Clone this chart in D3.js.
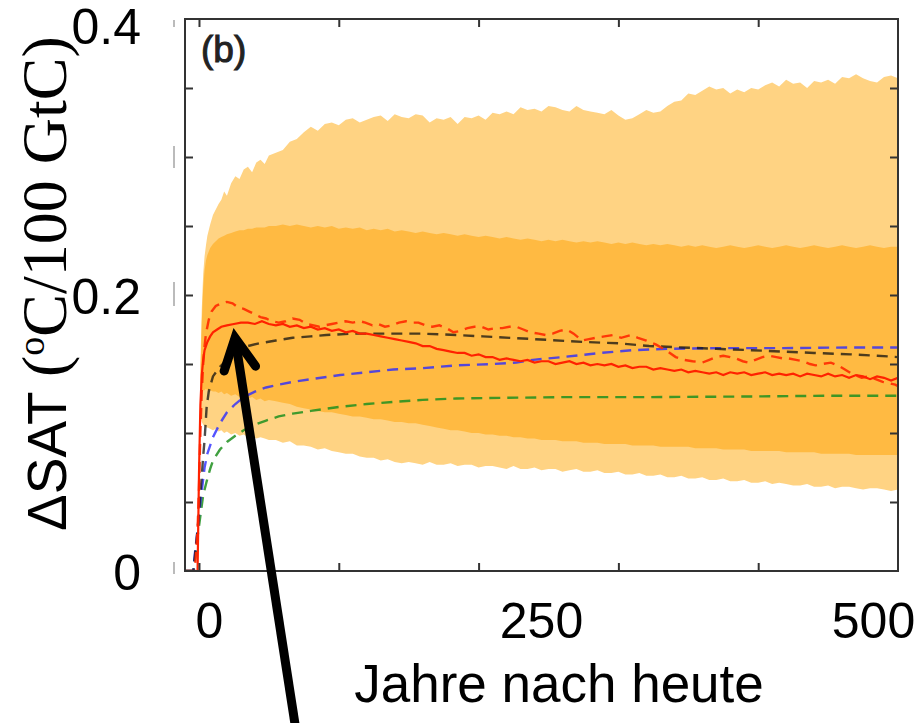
<!DOCTYPE html>
<html>
<head>
<meta charset="utf-8">
<script src="https://cdn.jsdelivr.net/npm/d3@7/dist/d3.min.js"></script>
<style>
  html, body { margin: 0; padding: 0; background: #fff; }
  svg { display: block; }
</style>
</head>
<body>
<svg id="chart" width="920" height="723"></svg>
<script>
// ---------------- DATA ----------------
const xTickLabels = [0, 250, 500];
const yTickLabels = [0, 0.2, 0.4];
const xMinorTicks = [0, 100, 200, 300, 400];
const yMinorTicks = [0.05, 0.1, 0.15, 0.2, 0.25, 0.3, 0.35];

// uncertainty bands (years after present)
const bandYears = [1,2,3,4,5,6,8,10,12,14,16,18,20,23,26,29,32,35,38,41,44,47,50,
  55,60,65,70,75,80,85,90,95,100,105,110,115,120,125,130,135,140,145,150,155,160,165,170,175,180,185,190,195,200,
  205,210,215,220,225,230,235,240,245,250,255,260,265,270,275,280,285,290,295,300,305,310,315,320,325,330,335,340,345,350,
  355,360,365,370,375,380,385,390,395,400,405,410,415,420,425,430,435,440,445,450,455,460,465,470,475,480,485,490,495,500];

const outerUpper = [0.15,0.19,0.215,0.228,0.236,0.243,0.251,0.258,0.262,0.266,0.269,0.275,0.272,0.281,0.286,0.284,0.291,0.293,0.289,0.296,0.298,0.295,0.301,
  0.303,0.305,0.311,0.313,0.318,0.322,0.319,0.324,0.325,0.323,0.327,0.328,0.325,0.327,0.329,0.330,0.326,0.331,0.329,0.328,0.331,0.330,0.325,0.328,0.327,0.329,0.324,0.329,0.328,0.330,
  0.327,0.332,0.331,0.333,0.331,0.336,0.334,0.335,0.333,0.337,0.336,0.334,0.333,0.337,0.334,0.333,0.332,0.331,0.334,0.330,0.327,0.328,0.331,0.334,0.332,0.333,0.337,0.340,0.341,0.346,
  0.345,0.348,0.351,0.349,0.350,0.346,0.349,0.347,0.350,0.349,0.352,0.354,0.351,0.356,0.353,0.354,0.350,0.355,0.354,0.356,0.353,0.358,0.357,0.360,0.357,0.355,0.354,0.358,0.359,0.357];

const innerUpper = [0.14,0.18,0.205,0.218,0.225,0.229,0.234,0.237,0.239,0.241,0.242,0.243,0.244,0.245,0.246,0.247,0.247,0.248,0.248,0.249,0.249,0.249,0.250,
  0.250,0.251,0.250,0.251,0.250,0.249,0.250,0.249,0.250,0.248,0.249,0.248,0.249,0.247,0.248,0.247,0.248,0.246,0.247,0.246,0.245,0.246,0.245,0.244,0.245,0.244,0.243,0.244,0.243,0.242,
  0.243,0.242,0.241,0.242,0.241,0.240,0.241,0.240,0.239,0.240,0.239,0.240,0.239,0.238,0.239,0.238,0.239,0.238,0.237,0.238,0.237,0.238,0.237,0.236,0.237,0.236,0.237,0.236,0.235,0.236,
  0.235,0.236,0.235,0.234,0.235,0.236,0.235,0.234,0.235,0.236,0.235,0.234,0.235,0.236,0.235,0.234,0.235,0.236,0.235,0.234,0.235,0.236,0.235,0.234,0.235,0.236,0.235,0.234,0.235,0.235];

const innerLower = [0.128,0.130,0.131,0.131,0.132,0.131,0.131,0.130,0.130,0.129,0.130,0.128,0.129,0.127,0.128,0.126,0.127,0.125,0.126,0.124,0.125,0.123,0.124,
  0.123,0.122,0.121,0.119,0.118,0.117,0.116,0.115,0.115,0.114,0.113,0.112,0.112,0.111,0.110,0.110,0.109,0.108,0.108,0.107,0.107,0.106,0.105,0.104,0.103,0.102,0.102,0.101,0.100,0.100,
  0.099,0.099,0.098,0.098,0.097,0.097,0.096,0.096,0.095,0.095,0.095,0.094,0.094,0.094,0.093,0.093,0.093,0.092,0.092,0.092,0.092,0.091,0.091,0.091,0.091,0.090,0.090,0.090,0.090,0.090,
  0.089,0.089,0.089,0.089,0.088,0.088,0.088,0.088,0.087,0.087,0.087,0.087,0.087,0.086,0.086,0.086,0.086,0.086,0.085,0.085,0.085,0.085,0.085,0.084,0.084,0.084,0.084,0.084,0.084,0.084];

const outerLower = [0.112,0.108,0.106,0.105,0.104,0.104,0.103,0.102,0.103,0.101,0.102,0.100,0.101,0.099,0.100,0.098,0.099,0.097,0.098,0.096,0.097,0.096,0.095,
  0.095,0.093,0.094,0.091,0.091,0.090,0.088,0.089,0.087,0.086,0.085,0.085,0.083,0.082,0.082,0.080,0.081,0.079,0.078,0.079,0.078,0.077,0.079,0.077,0.077,0.078,0.076,0.077,0.077,0.075,
  0.076,0.076,0.075,0.074,0.076,0.074,0.074,0.075,0.073,0.074,0.074,0.072,0.073,0.074,0.072,0.072,0.073,0.071,0.071,0.072,0.070,0.070,0.071,0.069,0.069,0.070,0.068,0.068,0.069,0.067,
  0.067,0.068,0.066,0.066,0.067,0.065,0.065,0.066,0.064,0.064,0.065,0.063,0.064,0.063,0.062,0.062,0.063,0.061,0.061,0.062,0.060,0.061,0.061,0.060,0.059,0.060,0.060,0.059,0.058,0.059];

// multi-model mean (red solid)
const meanYears = [-10,-1,0,1,2,3,4,6,8,10,13,16,20,25,30,35,40,45,50,55,60,65,70,75,80,85,90,95,100,105,110,115,120,125,130,135,140,145,150,155,160,165,170,175,180,185,190,195,200,
  205,210,215,220,225,230,235,240,245,250,255,260,265,270,275,280,285,290,295,300,305,310,315,320,325,330,335,340,345,350,355,360,365,370,375,380,385,390,395,400,
  405,410,415,420,425,430,435,440,445,450,455,460,465,470,475,480,485,490,495,500];
const meanValues = [0,0,0.07,0.12,0.142,0.153,0.16,0.166,0.17,0.173,0.175,0.177,0.178,0.179,0.180,0.180,0.179,0.181,0.179,0.178,0.179,0.177,0.178,0.176,0.177,0.175,0.176,0.174,0.175,0.173,0.174,0.172,0.172,0.171,0.170,0.169,0.168,0.167,0.166,0.165,0.163,0.163,0.161,0.160,0.159,0.158,0.158,0.156,0.157,
  0.155,0.155,0.153,0.154,0.153,0.152,0.153,0.151,0.152,0.152,0.150,0.151,0.152,0.150,0.151,0.149,0.150,0.149,0.150,0.148,0.149,0.147,0.148,0.148,0.146,0.147,0.146,0.145,0.146,0.144,0.145,0.144,0.143,0.144,0.142,0.144,0.143,0.144,0.142,0.143,
  0.144,0.142,0.143,0.142,0.143,0.141,0.143,0.142,0.141,0.143,0.141,0.142,0.140,0.142,0.141,0.139,0.141,0.140,0.138,0.140];

// red dashed
const redDashYears = [-10,-3,-1,0,1,2,3,4,5,7,9,12,16,20,24,28,32,36,40,44,48,52,57,62,67,72,77,82,86,90,95,100,105,110,115,119,124,128,133,138,143,148,153,157,162,167,172,177,182,187,192,197,202,207,212,217,222,227,232,237,243,248,253,258,263,268,274,279,284,290,296,302,309,314,320,327,334,341,347,353,360,365,370,375,380,384,389,393,398,403,408,413,418,422,427,432,437,441,446,452,457,462,467,474,479,484,489,494,498,500];
const redDashValues = [0,0,0.03,0.06,0.10,0.13,0.15,0.163,0.172,0.182,0.188,0.192,0.194,0.195,0.194,0.191,0.190,0.188,0.186,0.184,0.183,0.181,0.180,0.181,0.183,0.182,0.179,0.178,0.177,0.178,0.179,0.180,0.181,0.180,0.181,0.180,0.178,0.179,0.177,0.178,0.180,0.181,0.180,0.180,0.178,0.177,0.178,0.176,0.173,0.174,0.176,0.177,0.177,0.175,0.176,0.176,0.177,0.177,0.175,0.173,0.172,0.171,0.172,0.174,0.175,0.172,0.167,0.168,0.169,0.170,0.171,0.169,0.171,0.169,0.167,0.164,0.160,0.155,0.153,0.152,0.151,0.153,0.155,0.156,0.155,0.154,0.152,0.151,0.153,0.155,0.156,0.155,0.154,0.154,0.153,0.152,0.150,0.149,0.150,0.151,0.149,0.146,0.143,0.140,0.141,0.139,0.137,0.136,0.135,0.134];

// black dashed
const blackYears = [-10,-4,-3,-1,1,3,4,5.5,7,10,15,20,27,35,43,55,67,80,91,110,139,160,184,203,240,275,300,322,345,370,395,418,440,466,485,500];
const blackValues = [0,0,0.01,0.03,0.055,0.083,0.095,0.119,0.13,0.141,0.148,0.153,0.16,0.163,0.165,0.167,0.169,0.170,0.171,0.172,0.172,0.172,0.171,0.170,0.168,0.166,0.165,0.163,0.162,0.161,0.160,0.159,0.158,0.157,0.156,0.155];

// blue dashed
const blueYears = [-10,-4,-3,-1,1,2,4,6,10,15,20,26,32,40,48,57,67,80,101,120,139,160,184,210,227,239,260,287,310,335,370,418,466,500];
const blueValues = [0,0,0.012,0.03,0.05,0.058,0.075,0.085,0.097,0.107,0.115,0.121,0.126,0.130,0.133,0.135,0.137,0.139,0.142,0.144,0.146,0.147,0.149,0.150,0.151,0.153,0.155,0.158,0.160,0.161,0.1615,0.1615,0.162,0.162];

// green dashed
const greenYears = [-10,-4,-3,-1,1,3,5.5,8,10,15,20,26,32,40,48,57,67,80,101,120,139,160,184,220,260,320,400,450,500];
const greenValues = [0,0,0.008,0.025,0.04,0.055,0.065,0.074,0.08,0.088,0.0935,0.098,0.102,0.106,0.109,0.112,0.114,0.116,0.119,0.121,0.1225,0.124,0.125,0.1255,0.126,0.126,0.1265,0.127,0.127];

// annotation arrow (data units: tip and tail)
const arrowTip = [25.8, 0.169];
const arrowTail = [71, -0.126];

// ---------------- CHART ----------------
const svg = d3.select("#chart");
const plot = { left: 185, right: 898, top: 19, bottom: 571 };

const x = d3.scaleLinear().domain([-10, 500]).range([plot.left, plot.right]);
const y = d3.scaleLinear().domain([0, 0.4]).range([plot.bottom, plot.top]);
// overlaid (translated) tick labels sit slightly offset from the data ticks
const xLabelScale = d3.scaleLinear().domain([0, 500]).range([209, 873]);

svg.append("defs").append("clipPath").attr("id", "clip")
  .append("rect").attr("x", plot.left).attr("y", plot.top)
  .attr("width", plot.right - plot.left).attr("height", plot.bottom - plot.top);

const g = svg.append("g").attr("clip-path", "url(#clip)");

const zipBand = (lo, hi) => bandYears.map((yr, i) => ({ x: yr, lo: lo[i], hi: hi[i] }));
const area = d3.area().x(d => x(d.x)).y0(d => y(d.lo)).y1(d => y(d.hi));

g.append("path").datum(zipBand(outerLower, outerUpper))
  .attr("d", area).attr("fill", "#FFD383");
g.append("path").datum(zipBand(innerLower, innerUpper))
  .attr("d", area).attr("fill", "#FFBA42");

const line = d3.line().x(d => x(d[0])).y(d => y(d[1]));
const zip = (xs, ys) => xs.map((v, i) => [v, ys[i]]);

const series = [
  { xs: greenYears, ys: greenValues, color: "#1f8f1f", dash: "11,7", op: 0.85, w: 2.4 },
  { xs: blueYears, ys: blueValues, color: "#2a2aff", dash: "11,7", op: 0.8, w: 2.4 },
  { xs: blackYears, ys: blackValues, color: "#111", dash: "11,7", op: 0.75, w: 2.4 },
  { xs: redDashYears, ys: redDashValues, color: "#ff2a00", dash: "11,7", op: 0.9, w: 2.4 },
  { xs: meanYears, ys: meanValues, color: "#ff2200", dash: null, op: 1, w: 2.2 }
];
series.forEach(s => {
  g.append("path").datum(zip(s.xs, s.ys))
    .attr("d", line).attr("fill", "none")
    .attr("stroke", s.color).attr("stroke-width", s.w)
    .attr("stroke-opacity", s.op)
    .attr("stroke-dasharray", s.dash);
});

// frame ticks (inward)
const tickStyle = sel => {
  sel.select(".domain").remove();
  sel.selectAll("line").attr("stroke", "#333").attr("stroke-width", 2);
  sel.selectAll("text").remove();
};
svg.append("g").attr("transform", `translate(0,${plot.bottom})`)
  .call(d3.axisBottom(x).tickValues(xMinorTicks).tickSize(-8)).call(tickStyle);
svg.append("g").attr("transform", `translate(0,${plot.top})`)
  .call(d3.axisTop(x).tickValues(xMinorTicks).tickSize(-8)).call(tickStyle);
svg.append("g").attr("transform", `translate(${plot.left},0)`)
  .call(d3.axisLeft(y).tickValues(yMinorTicks).tickSize(-8)).call(tickStyle);
svg.append("g").attr("transform", `translate(${plot.right},0)`)
  .call(d3.axisRight(y).tickValues(yMinorTicks).tickSize(-8)).call(tickStyle);

svg.append("rect")
  .attr("x", plot.left).attr("y", plot.top)
  .attr("width", plot.right - plot.left).attr("height", plot.bottom - plot.top)
  .attr("fill", "none").attr("stroke", "#333").attr("stroke-width", 2);

// faint remnants of original labels left of the frame
[[20, 27], [146, 168], [282, 306], [562, 574]].forEach(r => {
  svg.append("line").attr("x1", 174).attr("x2", 174).attr("y1", r[0]).attr("y2", r[1])
    .attr("stroke", "#bbb").attr("stroke-width", 2);
});

// tick labels
const labelFont = "'Liberation Sans', Arial, sans-serif";
const xAx = svg.append("g").attr("transform", "translate(0,638)")
  .call(d3.axisBottom(xLabelScale).tickValues(xTickLabels).tickSize(0).tickPadding(0).tickFormat(d3.format("d")));
xAx.select(".domain").remove();
xAx.selectAll("text").attr("y", 0).attr("dy", 0)
  .attr("font-family", labelFont).attr("font-size", 50).attr("fill", "#000");

const yAx = svg.append("g").attr("transform", "translate(141,0)")
  .call(d3.axisLeft(y).tickValues(yTickLabels).tickSize(0).tickPadding(0)
    .tickFormat(d => d === 0 ? "0" : d3.format(".1f")(d)));
yAx.select(".domain").remove();
yAx.selectAll("text").attr("x", 0)
  .attr("dy", d => d === 0.4 ? 24 : 18)
  .attr("font-family", labelFont).attr("font-size", 50).attr("fill", "#000");

// axis titles
svg.append("text").attr("x", 559).attr("y", 702).attr("text-anchor", "middle")
  .attr("font-family", labelFont).attr("font-size", 53).attr("fill", "#000")
  .text("Jahre nach heute");

const serif = "'Liberation Serif', 'Times New Roman', serif";
const yt = svg.append("text").attr("transform", "translate(66,531) rotate(-90)")
  .attr("fill", "#000");
yt.append("tspan").attr("font-family", labelFont).attr("font-size", 55).text("ΔSAT ");
yt.append("tspan").attr("font-family", serif).attr("font-size", 64).text("(");
yt.append("tspan").attr("font-family", serif).attr("font-size", 38).attr("dy", -22).text("o");
yt.append("tspan").attr("font-family", serif).attr("font-size", 64).attr("dy", 22).text("C/100 GtC)");

// panel label
svg.append("text").attr("x", 201).attr("y", 62)
  .attr("font-family", labelFont).attr("font-size", 37).attr("fill", "#222")
  .attr("stroke", "#222").attr("stroke-width", 1)
  .text("(b)");

// annotation arrow
const tip = [x(arrowTip[0]), y(arrowTip[1])];
const tail = [x(arrowTail[0]), y(arrowTail[1])];
const ang = Math.atan2(tail[1] - tip[1], tail[0] - tip[0]);
const wing = 35, spread = 27 * Math.PI / 180;
const w1 = [tip[0] + wing * Math.cos(ang + spread), tip[1] + wing * Math.sin(ang + spread)];
const w2 = [tip[0] + wing * Math.cos(ang - spread), tip[1] + wing * Math.sin(ang - spread)];
svg.append("path").attr("d", `M${tail[0]},${tail[1]}L${tip[0]},${tip[1]}`)
  .attr("stroke", "#000").attr("stroke-width", 9).attr("fill", "none");
svg.append("path").attr("d", `M${w1[0]},${w1[1]}L${tip[0]},${tip[1]}L${w2[0]},${w2[1]}`)
  .attr("stroke", "#000").attr("stroke-width", 9).attr("fill", "none")
  .attr("stroke-linejoin", "miter").attr("stroke-linecap", "round");
</script>
</body>
</html>
